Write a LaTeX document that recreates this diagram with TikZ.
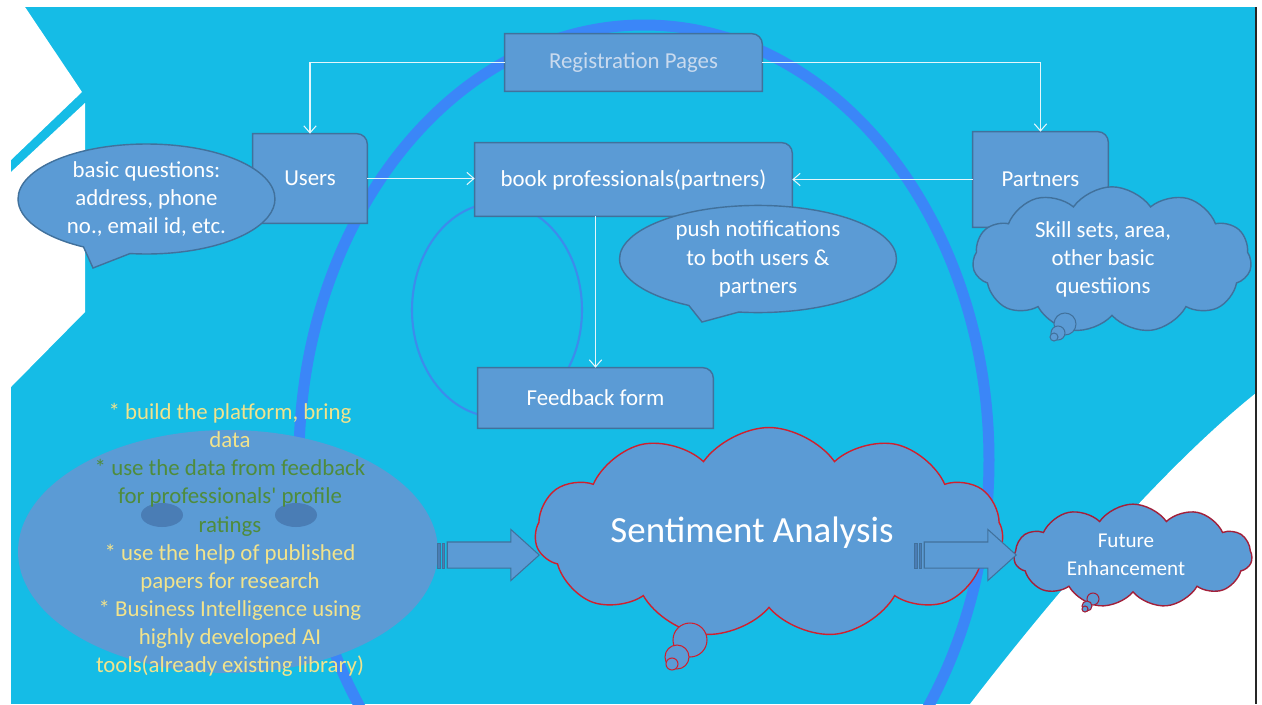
\documentclass[tikz,border=0pt]{standalone}
\usepackage{fontspec}
\setmainfont{Carlito}
\usetikzlibrary{shapes.geometric, shapes.symbols, shapes.callouts, shapes.arrows, arrows.meta}
\usepackage{xcolor}
\definecolor{sky}{HTML}{15BCE6}
\definecolor{ringblue}{HTML}{3B86F8}
\definecolor{loopblue}{HTML}{3C8CEC}
\definecolor{boxfill}{HTML}{5B9BD5}
\definecolor{boxline}{HTML}{41719C}
\definecolor{eyefill}{HTML}{4A7DB5}
\definecolor{note}{HTML}{F2E38B}
\definecolor{leaf}{HTML}{4F8C3C}
\definecolor{regtext}{HTML}{C9DAEE}
\definecolor{wire}{HTML}{E4F6FB}
\definecolor{redline}{HTML}{D0202E}
\definecolor{wineline}{HTML}{A3203A}
\newcommand\yel[1]{\textcolor{note}{#1}}
\newcommand\grn[1]{\textcolor{leaf}{#1}}
\pgfdeclarelayer{bg}
\pgfdeclarelayer{boxes}
\pgfsetlayers{bg,boxes,main}

\begin{document}
\begin{tikzpicture}[x=0.02cm, y=-0.02cm,
    every node/.style={font=\fontsize{13}{16}\selectfont, text=white},
    box/.style={rectangle, inner sep=0pt, align=center},
    boxshape/.style={fill=boxfill, draw=boxline, line width=0.8pt},
    link/.style={draw=wire, line width=0.6pt, -{Straight Barb[length=4pt, width=7pt]}},
    bubble/.style={ellipse callout, fill=boxfill, draw=boxline, line width=0.8pt,
                   inner sep=0pt, align=center, callout pointer arc=22},
    puff/.style={cloud, cloud puffs=11, cloud puff arc=110, cloud ignores aspect, fill=boxfill,
                 line width=0.8pt, inner sep=0pt, align=center},
    fatarrow/.style={single arrow, fill=boxfill, draw=boxline, line width=0.6pt,
                     inner xsep=0pt, inner ysep=0.25cm, minimum width=1cm, minimum height=1.84cm,
                     single arrow head extend=0.25cm, single arrow tip angle=84},
    stripe/.style={fill=eyefill, draw=boxline, line width=0.4pt}
]
\useasboundingbox (0,0) rectangle (1262,704);

% backdrop: slide colour, white cut-outs, the two rings
\begin{pgfonlayer}{bg}
  \begin{scope}
    \clip (11,7) rectangle (1256,704);
    \fill[sky] (11,7) rectangle (1256,704);
    \fill[white] (11,7) -- (25,7) -- (82,92) -- (11,160) -- cycle;
    \fill[white] (11,172) -- (85,103) -- (85,312) -- (11,387) -- cycle;
    \fill[white] (1256,393) .. controls (1160,470) and (1050,600) .. (970,704) -- (1256,704) -- cycle;
    \draw[ringblue, line width=0.22cm] (644,460) ellipse (345 and 435);
    \draw[loopblue, line width=1.2pt] (497,310) ellipse (85 and 107);
  \end{scope}
  \draw[black!85, line width=1.2pt] (1256,7) -- (1256,704);
\end{pgfonlayer}

\node[box, minimum width=5.14cm, minimum height=1.14cm, text=regtext] (reg) at (633.5,62.5) {Registration Pages};
\node[box, minimum width=2.28cm, minimum height=1.78cm] (users) at (310,178.5) {Users};
\node[box, minimum width=6.34cm, minimum height=1.46cm] (book) at (633.5,179.5) {book professionals(partners)};
\node[box, minimum width=2.7cm, minimum height=1.9cm] (partners) at (1040.5,179.5) {Partners};
\node[box, minimum width=4.7cm, minimum height=1.2cm] (feedback) at (595.5,398) {Feedback form};

\begin{pgfonlayer}{boxes}
  \foreach \b in {reg, users, book, partners, feedback}
    \draw[boxshape] (\b.north) [rounded corners=6pt] -- (\b.north east) -- (\b.east)
      [sharp corners] -- (\b.south east) -- (\b.south west) -- (\b.north west) -- cycle;
\end{pgfonlayer}

\draw[link] (reg.west) -| (users.north);
\draw[link] (reg.east) -| (partners.north);
\draw[link] (users.east) -- (users.east -| book.west);
\draw[link] (partners.west) -- (partners.west -| book.east);
\draw[link] (feedback.north |- book.south) -- (feedback.north);

\node[bubble, minimum width=5.14cm, minimum height=2.2cm, callout absolute pointer={(93,268)}]
  (basics) at (146.5,199) {basic questions:\\address, phone\\no., email id, etc.};
\node[bubble, minimum width=5.54cm, minimum height=2.1cm, callout absolute pointer={(702,322)}]
  (notify) at (758,259) {push notifications\\to both users \&\\partners};

\node[puff, draw=boxline, minimum width=5.58cm, minimum height=2.6cm] (skills) at (1112,260)
  {\begin{tabular}{@{}c@{}}Skill sets, area,\\other basic\\questiions\end{tabular}\hspace*{0.36cm}};
\foreach \c/\r in {{1065,324}/11, {1058,333}/7, {1054,337}/4}
  \filldraw[fill=boxfill, draw=boxline, line width=0.6pt] (\c) circle (\r);

% plan of work
\node[ellipse, fill=boxfill, minimum width=8.4cm, minimum height=4.86cm, inner sep=0pt] (plan) at (228,551.5) {};
\fill[eyefill] (162,515) ellipse (21 and 12);
\fill[eyefill] (296,515) ellipse (21 and 12);
\node[align=center] (plantext) at (230,540) {\yel{* build the platform, bring}\\\yel{data}\\
  \grn{* use the data from feedback}\\\grn{for professionals\textquotesingle\ profile}\\\grn{ratings}\\
  \yel{* use the help of published}\\\yel{papers for research}\\\yel{* Business Intelligence using}\\
  \yel{highly developed AI}\\\yel{tools(already existing library)}};

\node[puff, draw=redline, minimum width=9.36cm, minimum height=4.22cm,
      font=\fontsize{21}{24}\selectfont] (sentiment) at (769,533) {Sentiment Analysis\hspace*{0.68cm}};
\foreach \c/\r in {{690,640}/17, {677,657}/12, {672,664}/6}
  \filldraw[fill=boxfill, draw=redline, line width=0.6pt] (\c) circle (\r);

\node[puff, draw=wineline, minimum width=4.76cm, minimum height=1.74cm,
      font=\fontsize{12}{16}\selectfont] (future) at (1133,556)
  {\begin{tabular}{@{}c@{}}Future\\Enhancement\end{tabular}\hspace*{0.28cm}};
\foreach \c/\r in {{1093,599}/6, {1087,606}/5, {1085,609}/3}
  \filldraw[fill=boxfill, draw=wineline, line width=0.6pt] (\c) circle (\r);

\node[fatarrow] (toanalysis) at (486,555) {};
\draw[stripe] (437,543) rectangle (440,568);
\draw[stripe] (442,543) rectangle (444,568);
\node[fatarrow] (tofuture) at (963,555) {};
\draw[stripe] (914,543) rectangle (917,568);
\draw[stripe] (919,543) rectangle (921,568);
\end{tikzpicture}
\end{document}
